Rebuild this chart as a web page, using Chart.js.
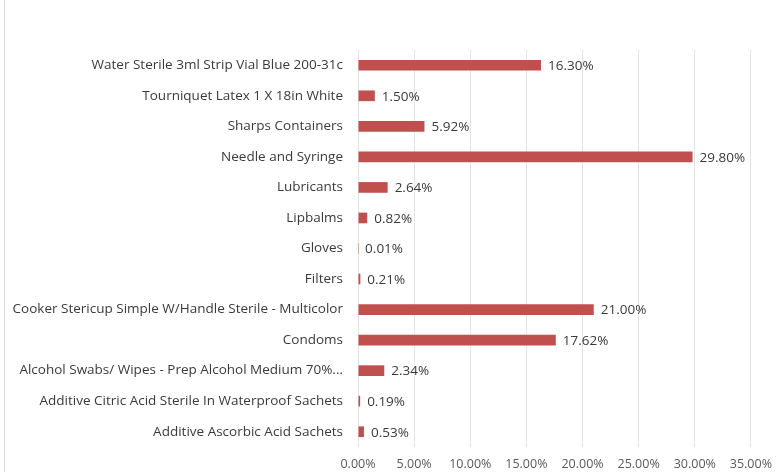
<!DOCTYPE html>
<html>
<head>
<meta charset="utf-8">
<script src="https://cdn.jsdelivr.net/npm/chart.js@4/dist/chart.umd.min.js"></script>
<style>
  html, body { margin: 0; padding: 0; background: #fff; }
  #wrap { width: 782px; height: 472px; position: relative; }
</style>
</head>
<body>
<div id="wrap"><canvas id="chart"></canvas></div>
<script>
const categories = [
  'Water Sterile 3ml Strip Vial Blue 200-31c',
  'Tourniquet Latex 1 X 18in White',
  'Sharps Containers',
  'Needle and Syringe',
  'Lubricants',
  'Lipbalms',
  'Gloves',
  'Filters',
  'Cooker Stericup Simple W/Handle Sterile - Multicolor',
  'Condoms',
  'Alcohol Swabs/ Wipes - Prep Alcohol Medium 70%...',
  'Additive Citric Acid Sterile In Waterproof Sachets',
  'Additive Ascorbic Acid Sachets'
]
const shares = [16.30, 1.50, 5.92, 29.80, 2.64, 0.82, 0.01, 0.21, 21.00, 17.62, 2.34, 0.19, 0.53]
const tickValues = [0, 5, 10, 15, 20, 25, 30, 35]

const FONT = '"Open Sans", Lato, sans-serif'
const TEXT = '#3a3a3a'

// value labels at the end of each bar
const barLabels = {
  id: 'barLabels',
  afterDatasetsDraw: (chart) => {
    const ctx = chart.ctx
    ctx.save()
    ctx.font = '13.5px ' + FONT
    ctx.fillStyle = TEXT
    ctx.textAlign = 'left'
    ctx.textBaseline = 'middle'
    chart.getDatasetMeta(0).data.forEach((bar, i) => {
      ctx.fillText(shares[i].toFixed(2) + '%', bar.x + 7, bar.y + 1)
    })
    ctx.restore()
  }
}

// thin frame line on the left edge
const frame = {
  id: 'frame',
  beforeDraw: (chart) => {
    const ctx = chart.ctx
    ctx.save()
    ctx.strokeStyle = '#d9d9d9'
    ctx.lineWidth = 1
    ctx.beginPath()
    ctx.moveTo(4.5, 0)
    ctx.lineTo(4.5, chart.height)
    ctx.stroke()
    ctx.restore()
  }
}

new Chart(document.getElementById('chart'), {
  type: 'bar',
  data: {
    labels: categories,
    datasets: [{
      data: shares,
      backgroundColor: '#C0504D',
      borderWidth: 0,
      barPercentage: 0.35,
      categoryPercentage: 1
    }]
  },
  options: {
    indexAxis: 'y',
    responsive: true,
    maintainAspectRatio: false,
    animation: false,
    layout: { padding: { top: 50, right: 27, left: 0, bottom: 0 } },
    plugins: {
      legend: { display: false },
      tooltip: { enabled: false }
    },
    scales: {
      x: {
        min: 0,
        max: 35,
        afterBuildTicks: (scale) => { scale.ticks = tickValues.map(v => ({ value: v })) },
        grid: { color: '#e3e3e3', lineWidth: 1, drawTicks: false },
        border: { display: false },
        ticks: {
          padding: 10,
          color: '#595959',
          font: { family: FONT, size: 12.5 },
          callback: (v) => v.toFixed(2) + '%'
        },
        afterFit: (scale) => { scale.height = 25 }
      },
      y: {
        grid: { display: false, drawTicks: false },
        border: { display: false },
        ticks: {
          padding: 15,
          color: TEXT,
          font: { family: FONT, size: 13.5 },
          autoSkip: false
        },
        afterFit: (scale) => { scale.width = 358 }
      }
    }
  },
  plugins: [barLabels, frame]
})
</script>
</body>
</html>
